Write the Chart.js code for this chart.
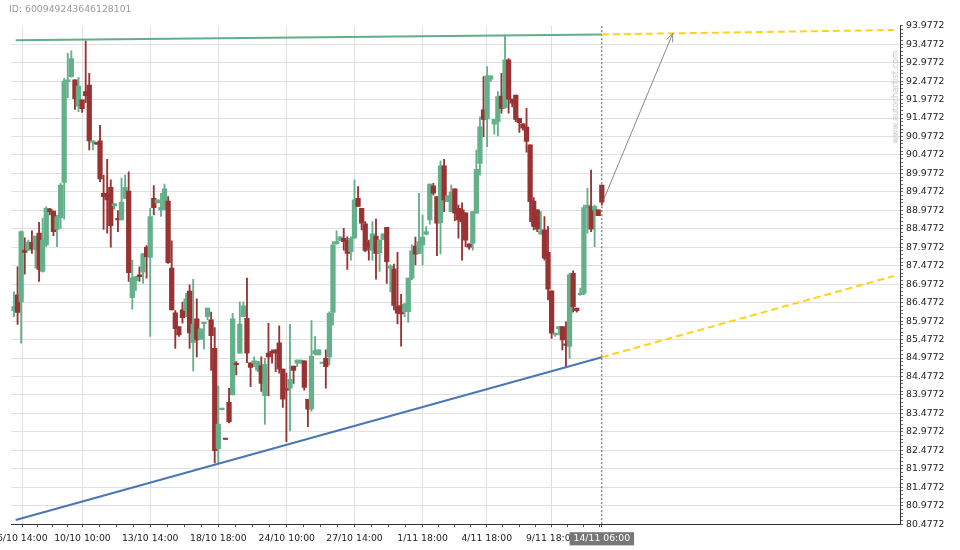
<!DOCTYPE html>
<html>
<head>
<meta charset="utf-8">
<script src="https://cdn.jsdelivr.net/npm/chart.js@4.4.0/dist/chart.umd.min.js"></script>
<style>
  html, body { margin: 0; padding: 0; background: #fff; }
  #wrap { position: relative; width: 960px; height: 550px; overflow: hidden; }
  #chartId { position: absolute; left: 9px; top: 3px; font: 9.3px 'DejaVu Sans', sans-serif; line-height: 11px; color: #999; }
  #wm { position: absolute; left: 894.5px; top: 96.5px; transform: translate(-50%, -50%) rotate(-90deg);
        font: 8.3px 'DejaVu Sans', sans-serif; color: #c4c4c4; white-space: nowrap; }
</style>
</head>
<body>
<div id="wrap">
  <canvas id="c" width="960" height="550"></canvas>
  <div id="chartId">ID: 600949243646128101</div>
  <div id="wm">www.autochartist.com</div>
</div>
<script>
// ---- candles (one per index, oldest first) ----
const opens = [86.26,86.69,86.50,87.90,87.90,88.11,87.92,88.36,87.32,88.04,89.01,88.96,88.46,88.78,89.73,92.46,92.60,92.51,91.80,91.97,
  92.19,92.37,90.82,90.81,90.86,89.44,89.44,89.60,89.10,88.74,88.72,89.30,89.50,86.61,87.07,87.23,87.30,87.98,87.70,89.30,
  89.18,88.99,89.01,89.23,87.41,86.20,85.83,86.28,86.26,86.79,85.39,86.04,85.49,85.91,86.10,86.01,85.24,82.52,83.58,82.79,
  83.78,83.98,84.82,85.11,86.10,86.05,84.85,84.84,84.65,84.77,83.96,85.11,85.13,85.20,85.39,84.68,84.12,84.16,84.76,84.84,
  84.84,84.90,83.86,83.60,85.09,85.06,84.83,84.97,85.01,86.21,88.07,88.16,88.22,88.16,87.86,88.22,89.30,89.03,88.61,88.09,
  87.90,88.28,87.83,88.19,88.52,87.41,87.39,86.39,86.39,86.23,86.23,87.14,88.01,87.81,88.04,88.33,88.72,89.64,89.35,88.64,
  90.18,89.21,88.94,89.56,89.03,88.99,88.91,88.07,88.09,88.90,90.25,91.70,91.45,92.53,91.31,91.38,92.07,91.76,93.05,91.99,
  92.10,91.47,91.32,91.23,90.75,89.23,88.99,88.33,88.45,87.84,86.80,85.60,85.77,85.83,85.34,85.29,87.27,86.33,86.69,86.73,
  89.05,89.08,88.99,88.99,89.66];
const highs = [86.77,87.45,88.42,88.23,88.17,88.42,88.28,88.65,88.76,89.08,89.03,88.96,88.85,89.71,92.55,93.23,93.30,92.51,92.58,91.97,
  93.57,92.69,90.86,90.81,91.28,89.93,90.36,89.80,89.17,88.97,89.85,89.93,90.02,87.63,87.18,87.45,87.81,88.02,89.03,89.65,
  89.26,89.44,89.69,89.35,88.15,86.26,85.83,86.49,86.73,86.96,87.11,86.58,85.77,85.92,86.33,86.22,85.80,84.22,83.60,82.79,
  84.16,86.19,84.88,86.50,86.50,87.14,84.85,85.01,84.88,85.01,84.97,85.92,85.20,85.20,85.85,84.68,84.57,85.89,84.76,84.93,
  84.92,84.90,83.86,85.99,85.56,85.20,84.84,85.20,86.23,88.13,88.42,88.26,88.49,88.26,88.26,89.80,89.62,89.03,88.67,88.17,
  88.67,88.74,88.17,88.34,88.52,87.50,87.52,87.84,86.70,86.46,87.14,88.04,88.25,89.44,88.85,88.54,89.69,89.71,89.35,90.31,
  90.36,89.37,89.66,89.56,89.12,89.18,88.91,88.07,88.94,90.61,91.51,92.60,92.87,92.62,91.44,92.19,92.69,93.73,93.09,91.99,
  92.10,91.47,91.32,91.74,90.75,89.32,88.99,88.94,88.81,88.54,86.80,85.65,85.83,85.83,85.96,87.27,87.34,86.33,86.87,89.12,
  89.57,90.07,89.12,88.99,89.66];
const lows = [86.10,85.89,85.38,87.25,87.90,87.81,87.41,87.05,87.30,87.99,88.85,88.29,87.99,88.49,88.74,92.03,92.58,91.71,91.65,91.63,
  91.89,90.61,90.61,90.77,89.75,88.46,88.36,87.98,89.01,88.40,88.72,89.30,87.05,86.30,86.80,87.05,87.00,87.14,85.56,88.85,
  89.18,88.81,88.99,87.54,86.28,85.24,85.56,85.92,86.10,85.24,84.63,85.01,85.49,85.22,86.01,84.64,82.14,82.14,83.57,82.77,
  83.22,83.98,84.52,85.11,86.10,84.85,84.20,84.74,84.61,84.07,83.18,83.95,84.84,84.61,84.57,83.64,82.71,83.00,84.29,84.74,
  84.84,84.11,83.12,83.54,85.06,85.06,84.83,84.16,84.79,85.87,88.07,88.16,87.90,87.38,87.63,88.22,89.08,88.45,87.86,87.63,
  87.63,87.11,87.32,88.19,87.00,86.77,86.28,85.90,85.30,86.10,85.94,87.09,87.50,87.81,87.50,88.31,88.60,89.39,87.75,87.80,
  88.94,89.21,88.94,88.70,88.22,87.63,87.99,87.92,87.90,88.90,89.93,90.97,90.70,92.46,91.04,90.99,91.61,91.74,91.61,91.78,
  91.38,91.09,91.15,90.55,88.67,88.45,88.40,88.33,87.63,86.55,85.51,85.56,85.60,85.20,84.74,84.97,86.22,86.22,86.67,86.69,
  88.36,88.40,87.99,88.83,89.12];
const closes = [86.37,86.21,88.40,87.84,88.12,87.93,88.28,87.38,88.17,89.03,88.94,88.40,88.81,89.66,92.48,92.51,93.09,92.00,92.34,91.73,
  92.08,90.86,90.86,90.77,89.83,89.35,89.26,88.56,89.15,88.72,89.20,89.60,87.29,87.15,87.18,87.18,87.80,87.72,88.81,89.05,
  89.26,89.05,89.56,87.56,86.28,85.77,85.60,86.07,86.58,85.66,85.90,85.47,85.77,85.92,86.33,85.58,82.47,83.19,83.60,82.77,
  83.25,86.04,84.80,85.90,86.39,85.11,84.72,84.90,84.88,84.29,84.81,85.01,85.12,85.11,84.68,83.86,84.11,84.40,84.64,84.92,
  84.92,84.18,83.59,85.03,85.18,85.20,84.84,84.74,86.19,88.04,88.13,88.26,88.13,87.81,88.22,89.26,89.08,88.63,87.89,87.98,
  88.34,87.81,88.17,88.34,87.59,87.47,86.40,86.19,86.17,86.44,87.14,87.88,87.79,88.13,88.25,88.40,89.69,89.44,88.63,90.18,
  89.26,89.37,89.47,88.90,88.72,88.66,88.17,87.98,88.94,90.09,91.24,91.44,92.62,92.62,91.44,92.06,91.74,93.05,91.99,91.88,
  91.44,91.35,91.20,90.84,89.21,88.54,88.47,88.42,87.68,86.84,85.65,85.65,85.83,85.47,85.32,87.23,86.37,86.26,86.72,89.05,
  89.12,88.47,89.08,88.83,89.20];

// ---- trend lines ----
const trendIdx = [0.47, 164];
const resistance = [93.58, 93.74];
const support = [80.59, 85.00];
const forecastIdx = [164, 245.5];
const resistanceFc = [93.74, 93.86];
const supportFc = [85.00, 87.20];
const arrowIdx = [164.5, 183.8];
const arrowVals = [89.26, 93.77];
const nowIdx = 164;

// ---- axes ----
const majorIdx = [2.3, 19.1, 38.0, 57.0, 76.1, 95.0, 114.0, 131.9, 149.9];
const majorLabels = ['6/10 14:00', '10/10 10:00', '13/10 14:00', '18/10 18:00', '24/10 10:00',
  '27/10 14:00', '1/11 18:00', '4/11 18:00', '9/11 18:00'];
const nowLabel = '14/11 06:00';
const xMin = -0.837, xMax = 247.2;
const yMin = 80.4772, yMax = 93.9772;

const GREEN = '#64b08a';
const RED = '#993333';

// x ticks: a blank tick at the left edge (keeps Chart.js from padding for the clipped first label),
// then majors with 3 minors between each, then the "now" tick
const xTicks = [{ value: xMin + 0.1, lbl: '', isMajor: false, blank: true }];
majorIdx.forEach((v, k) => {
  xTicks.push({ value: v, lbl: majorLabels[k], isMajor: true });
  const next = k < majorIdx.length - 1 ? majorIdx[k + 1] : null;
  const step = next !== null ? (next - v) / 4 : (v - majorIdx[k - 1]) / 4;
  for (let j = 1; j < 4; j++) {
    const m = v + j * step;
    if (m < nowIdx - 0.5) xTicks.push({ value: m, lbl: '', isMajor: false });
  }
});
xTicks.push({ value: nowIdx, lbl: nowLabel, isMajor: true });

// y ticks: every 0.1, label every 0.5
const yTicks = [];
for (let k = 0; k <= 135; k++) {
  const v = yMin + k * 0.1;
  yTicks.push({ value: v, lbl: k % 5 === 0 ? v.toFixed(4) : '', isMajor: k % 5 === 0 });
}

const candleColor = (c) => (closes[c.dataIndex] >= opens[c.dataIndex] ? GREEN : RED);
const seg = (xs, ys) => xs.map((x, i) => ({ x, y: ys[i] }));

// pijlpunt aan het einde van de grijze lijn
const arrowHead = {
  id: 'arrowHead',
  afterDatasetsDraw(chart) {
    const meta = chart.getDatasetMeta(6);
    const a = meta.data[0], b = meta.data[1];
    const ang = Math.atan2(b.y - a.y, b.x - a.x);
    const ctx = chart.ctx;
    ctx.save();
    ctx.strokeStyle = '#888';
    ctx.lineWidth = 1;
    ctx.beginPath();
    [-0.38, 0.38].forEach((d) => {
      ctx.moveTo(b.x, b.y);
      ctx.lineTo(b.x - 9 * Math.cos(ang + d), b.y - 9 * Math.sin(ang + d));
    });
    ctx.stroke();
    ctx.restore();
  },
};

Chart.defaults.font.family = "'DejaVu Sans', sans-serif";
Chart.defaults.font.size = 9.3;
Chart.defaults.color = '#222';

const lineDs = (label, data, color, width, dash) => ({
  type: 'line', label, data, borderColor: color, borderWidth: width,
  borderDash: dash || [], pointRadius: 0, fill: false, tension: 0, order: 0,
});

new Chart(document.getElementById('c'), {
  type: 'bar',
  data: {
    datasets: [
      {
        label: 'wick',
        data: lows.map((l, i) => ({ x: i, y: [l, highs[i]] })),
        backgroundColor: candleColor, borderWidth: 0,
        barThickness: 1.2, grouped: false, order: 2,
      },
      {
        label: 'body',
        data: opens.map((o, i) => ({ x: i, y: [o, closes[i]] })),
        backgroundColor: candleColor, borderWidth: 0,
        barThickness: 4.6, minBarLength: 1.5, grouped: false, order: 1,
      },
      lineDs('resistance', seg(trendIdx, resistance), '#63ad88', 2),
      lineDs('support', seg(trendIdx, support), '#4a76b3', 2),
      lineDs('resistance forecast', seg(forecastIdx, resistanceFc), '#ffd21a', 2, [7, 4]),
      lineDs('support forecast', seg(forecastIdx, supportFc), '#ffd21a', 2, [7, 4]),
      lineDs('arrow', seg(arrowIdx, arrowVals), '#888', 1),
      lineDs('now', seg([nowIdx, nowIdx], [yMin, yMax]), '#555', 1, [2, 2]),
    ],
  },
  options: {
    responsive: false,
    animation: false,
    devicePixelRatio: 1,
    layout: { padding: { left: 11, top: 25.7, right: 0, bottom: 0 } },
    plugins: { legend: { display: false }, tooltip: { enabled: false } },
    scales: {
      x: {
        type: 'linear',
        min: xMin,
        max: xMax,
        offset: false,
        afterBuildTicks: (s) => { s.ticks = xTicks.map((t) => ({ ...t })); },
        afterFit: (s) => { s.height = 25.8; s.paddingLeft = 0; s.paddingRight = 0; },
        ticks: {
          autoSkip: false, maxRotation: 0, minRotation: 0, padding: 6,
          callback: (v, i, t) => t[i].lbl,
          color: (c) => (c.tick && c.tick.value === nowIdx ? '#fff' : '#222'),
          showLabelBackdrop: true,
          backdropColor: (c) => (c.tick && c.tick.value === nowIdx ? '#777' : 'rgba(0,0,0,0)'),
          backdropPadding: { x: 4, y: 1 },
        },
        grid: {
          offset: false,
          color: (c) => (c.tick && c.tick.isMajor && c.tick.value !== nowIdx ? '#e0e0e0' : 'rgba(0,0,0,0)'),
          tickColor: (c) => (c.tick && c.tick.blank ? 'rgba(0,0,0,0)' : '#555'),
          tickLength: 3,
        },
        border: { color: '#333', width: 1 },
      },
      y: {
        type: 'linear',
        position: 'right',
        min: yMin,
        max: yMax,
        afterBuildTicks: (s) => { s.ticks = yTicks.map((t) => ({ ...t })); },
        afterFit: (s) => { s.width = 60; s.paddingTop = 0; s.paddingBottom = 0; },
        ticks: { autoSkip: false, padding: 3, callback: (v, i, t) => t[i].lbl },
        grid: {
          color: (c) => (c.tick && c.tick.isMajor && c.tick.value < yMax - 0.01 ? '#e0e0e0' : 'rgba(0,0,0,0)'),
          tickColor: '#666', tickLength: 3,
        },
        border: { color: '#333', width: 1 },
      },
    },
  },
  plugins: [arrowHead],
});
</script>
</body>
</html>
